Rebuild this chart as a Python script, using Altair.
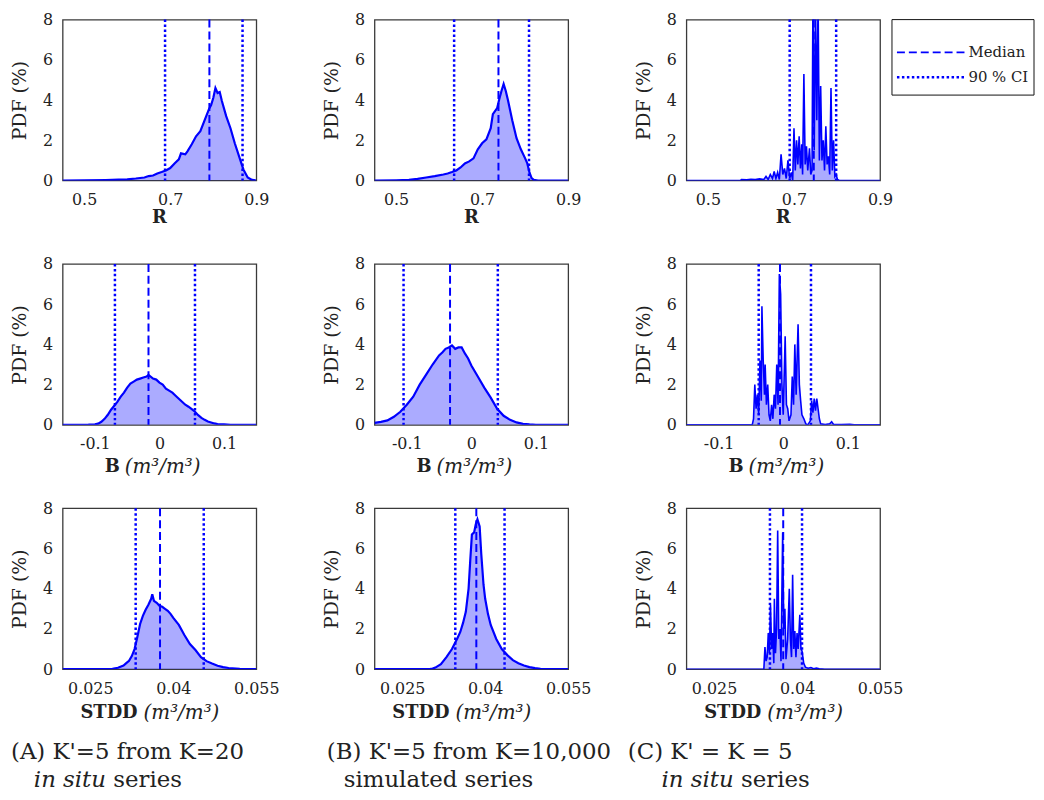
import altair as alt
import pandas as pd

# ---------------- data ----------------
Y_TICKS = [0, 2, 4, 6, 8]
R_TICKS = [0.5, 0.7, 0.9]
B_TICKS = [-0.1, 0.0, 0.1]
S_TICKS = [0.025, 0.04, 0.055]
R_DOMAIN = [0.45, 0.9]
B_DOMAIN = [-0.15, 0.15]
S_DOMAIN = [0.02, 0.055]

# Row 1: R
RA_x = [0.45, 0.50, 0.55, 0.58, 0.60, 0.62, 0.64, 0.65, 0.66, 0.67, 0.68, 0.69, 0.70, 0.71, 0.72, 0.725,
        0.735, 0.74, 0.75, 0.76, 0.77, 0.78, 0.79, 0.795, 0.80, 0.805, 0.81, 0.815, 0.82, 0.83, 0.84,
        0.85, 0.86, 0.87, 0.88, 0.89, 0.90]
RA_y = [0.0, 0.01, 0.02, 0.04, 0.06, 0.10, 0.15, 0.22, 0.25, 0.35, 0.42, 0.50, 0.62, 0.85, 1.05, 1.35,
        1.30, 1.45, 1.80, 2.20, 2.45, 3.00, 3.55, 3.75, 4.10, 4.60, 4.35, 4.40, 3.95, 3.20, 2.60,
        1.85, 1.20, 0.55, 0.15, 0.03, 0.0]
RA_med, RA_ci = 0.791, [0.688, 0.868]

RB_x = [0.45, 0.50, 0.53, 0.55, 0.57, 0.59, 0.61, 0.62, 0.63, 0.64, 0.65, 0.66, 0.67, 0.68, 0.69, 0.70,
        0.71, 0.72, 0.725, 0.73, 0.735, 0.74, 0.745, 0.75, 0.755, 0.76, 0.77, 0.78, 0.79, 0.80, 0.805,
        0.81, 0.815, 0.82, 0.83, 0.90]
RB_y = [0.0, 0.01, 0.03, 0.08, 0.15, 0.22, 0.30, 0.35, 0.42, 0.50, 0.65, 0.85, 0.95, 1.10, 1.55, 1.85,
        2.05, 2.60, 3.30, 3.45, 3.60, 4.05, 4.45, 4.80, 4.45, 4.00, 3.00, 2.10, 1.55, 1.10, 0.85,
        0.40, 0.12, 0.03, 0.0, 0.0]
RB_med, RB_ci = 0.738, [0.635, 0.809]

RC_x = [0.45, 0.575, 0.578, 0.59, 0.60, 0.61, 0.62, 0.63, 0.635, 0.64, 0.645, 0.65, 0.654, 0.658, 0.662,
        0.666, 0.670, 0.674, 0.678, 0.682, 0.686, 0.690, 0.694, 0.697, 0.700, 0.703, 0.706, 0.709, 0.712,
        0.715, 0.718, 0.720, 0.723, 0.726, 0.729, 0.732, 0.736, 0.739, 0.742, 0.744, 0.747, 0.750, 0.753,
        0.756, 0.759, 0.762, 0.765, 0.768, 0.771, 0.774, 0.777, 0.780, 0.783, 0.786, 0.789, 0.792, 0.795,
        0.798, 0.801, 0.805, 0.90]
RC_y = [0.0, 0.0, 0.05, 0.03, 0.06, 0.05, 0.08, 0.05, 0.2, 0.05, 0.3, 0.1, 0.45, 0.1, 0.4,
        0.05, 1.3, 0.3, 0.6, 0.1, 1.0, 0.1, 0.4, 0.0, 2.6, 0.5, 2.0, 0.8, 2.2,
        0.6, 1.8, 0.3, 5.3, 0.8, 1.7, 0.5, 1.6, 0.3, 0.5, 9.0, 1.5, 9.0, 3.0,
        9.0, 1.0, 4.7, 1.0, 2.0, 0.5, 2.7, 0.8, 1.2, 0.3, 4.6, 0.5, 2.0, 0.2,
        0.3, 0.05, 0.0, 0.0]
RC_med, RC_ci = 0.746, [0.690, 0.798]

# Row 2: B
BA_x = [-0.15, -0.12, -0.11, -0.10, -0.095, -0.09, -0.085, -0.08, -0.075, -0.07, -0.065, -0.06, -0.055,
        -0.05, -0.045, -0.04, -0.035, -0.03, -0.025, -0.02, -0.017, -0.01, -0.005, 0.0, 0.005, 0.01,
        0.015, 0.02, 0.025, 0.03, 0.035, 0.04, 0.045, 0.05, 0.055, 0.06, 0.065, 0.07, 0.075, 0.08,
        0.085, 0.09, 0.10, 0.11, 0.15]
BA_y = [0.0, 0.0, 0.01, 0.03, 0.06, 0.15, 0.30, 0.50, 0.75, 0.95, 1.15, 1.40, 1.60,
        1.85, 2.05, 2.15, 2.25, 2.30, 2.35, 2.40, 2.48, 2.30, 2.25, 2.10, 2.00, 1.80,
        1.70, 1.60, 1.45, 1.30, 1.15, 1.00, 0.90, 0.78, 0.65, 0.48, 0.35, 0.25, 0.17, 0.12,
        0.07, 0.04, 0.02, 0.0, 0.0]
BA_med, BA_ci = -0.017, [-0.069, 0.055]

BB_x = [-0.15, -0.14, -0.13, -0.12, -0.11, -0.10, -0.09, -0.08, -0.07, -0.06, -0.05, -0.045, -0.04,
        -0.035, -0.03, -0.025, -0.02, -0.015, -0.01, -0.005, 0.0, 0.01, 0.02, 0.03, 0.04, 0.05, 0.06,
        0.07, 0.08, 0.09, 0.10, 0.15]
BB_y = [0.10, 0.15, 0.22, 0.40, 0.65, 1.00, 1.40, 2.00, 2.50, 3.00, 3.45, 3.60, 3.78,
        3.85, 3.95, 3.78, 3.85, 3.85, 3.55, 3.30, 2.95, 2.40, 1.85, 1.35, 0.80, 0.45, 0.25,
        0.12, 0.05, 0.02, 0.0, 0.0]
BB_med, BB_ci = -0.033, [-0.105, 0.041]

BC_x = [-0.15, -0.048, -0.046, -0.044, -0.042, -0.040, -0.038, -0.036, -0.034, -0.033, -0.031, -0.029,
        -0.028, -0.026, -0.024, -0.022, -0.020, -0.018, -0.016, -0.014, -0.012, -0.010, -0.008, -0.006,
        -0.004, -0.002, 0.0, 0.003, 0.005, 0.007, 0.009, 0.012, 0.014, 0.016, 0.018, 0.020, 0.023,
        0.025, 0.027, 0.029, 0.032, 0.035, 0.038, 0.042, 0.044, 0.046, 0.048, 0.050, 0.052, 0.054,
        0.056, 0.058, 0.065, 0.072, 0.075, 0.078, 0.09, 0.103, 0.11, 0.15]
BC_y = [0.0, 0.0, 0.3, 2.0, 0.8, 1.5, 0.5, 3.2, 1.2, 5.9, 3.2, 1.5,
        3.0, 1.0, 2.0, 0.5, 0.2, 1.0, 0.3, 1.5, 0.8, 3.0, 1.0, 7.5,
        6.5, 2.0, 0.5, 4.4, 1.0, 0.8, 0.2, 0.5, 2.4, 1.0, 4.0, 1.5, 5.0,
        2.0, 1.2, 0.5, 0.3, 0.05, 0.0, 0.2, 1.2, 0.6, 1.3, 0.7, 1.3, 0.8,
        0.3, 0.05, 0.02, 0.05, 0.15, 0.02, 0.02, 0.03, 0.0, 0.0]
BC_med, BC_ci = -0.005, [-0.038, 0.043]

# Row 3: STDD
SA_x = [0.02, 0.028, 0.029, 0.030, 0.031, 0.0315, 0.032, 0.0325, 0.033, 0.0335, 0.034, 0.0345, 0.035,
        0.0355, 0.036, 0.0362, 0.0365, 0.037, 0.0375, 0.038, 0.0385, 0.039, 0.0395, 0.040, 0.041,
        0.042, 0.043, 0.044, 0.045, 0.046, 0.047, 0.048, 0.049, 0.050, 0.052, 0.055]
SA_y = [0.0, 0.0, 0.02, 0.07, 0.18, 0.30, 0.42, 0.65, 1.00, 1.60, 2.25, 2.65, 2.95,
        3.20, 3.50, 3.72, 3.40, 3.30, 3.15, 3.10, 3.00, 2.90, 2.75, 2.55, 2.20,
        1.70, 1.25, 0.95, 0.60, 0.40, 0.28, 0.17, 0.10, 0.06, 0.02, 0.0]
SA_med, SA_ci = 0.0376, [0.0332, 0.0455]

SB_x = [0.02, 0.030, 0.0305, 0.031, 0.032, 0.033, 0.034, 0.035, 0.0355, 0.036, 0.0365, 0.037, 0.0373,
        0.0376, 0.038, 0.0383, 0.0386, 0.039, 0.0393, 0.0397, 0.040, 0.0405, 0.041, 0.042, 0.043,
        0.044, 0.045, 0.046, 0.047, 0.048, 0.049, 0.050, 0.055]
SB_y = [0.0, 0.0, 0.03, 0.08, 0.25, 0.60, 1.00, 1.55, 1.85, 2.30, 2.85, 4.00, 5.40,
        6.70, 6.80, 7.20, 7.45, 7.10, 5.70, 4.20, 3.50, 2.75, 2.20, 1.50, 1.00,
        0.70, 0.45, 0.30, 0.18, 0.10, 0.05, 0.02, 0.0]
SB_med, SB_ci = 0.0384, [0.0346, 0.0435]

SC_x = [0.02, 0.0340, 0.0342, 0.0344, 0.0346, 0.0348, 0.0350, 0.0352, 0.0354, 0.0356, 0.0358, 0.0359,
        0.0361, 0.0363, 0.0365, 0.0367, 0.0369, 0.0371, 0.0374, 0.0376, 0.0378, 0.0380, 0.0383, 0.0386,
        0.0388, 0.0390, 0.0392, 0.0394, 0.0396, 0.0398, 0.0400, 0.0402, 0.0405, 0.0407, 0.0409, 0.0412,
        0.0415, 0.0420, 0.0425, 0.0430, 0.0435, 0.0440, 0.045, 0.055]
SC_y = [0.0, 0.0, 1.1, 0.4, 0.6, 1.8, 0.8, 3.2, 1.0, 1.8, 0.3, 3.5,
        0.8, 2.0, 6.9, 1.5, 2.0, 0.4, 6.8, 2.0, 3.0, 0.5, 1.5, 4.0,
        1.5, 0.6, 4.7, 1.0, 1.9, 0.6, 1.8, 1.0, 2.7, 1.0, 0.9, 0.3,
        0.1, 0.05, 0.08, 0.02, 0.05, 0.02, 0.0, 0.0]
SC_med, SC_ci = 0.0375, [0.0351, 0.0409]

CAPTIONS = [
    ("(A) K'=5 from K=20", "in situ", "series"),
    ("(B) K'=5 from K=10,000", "", "simulated series"),
    ("(C)  K' = K = 5", "in situ", "series"),
]
LEGEND_LABELS = ["Median", "90 % CI"]

# ---------------- styling ----------------
W, H = 195, 162
BLUE = "#0000ff"
FONT = "DejaVu Serif"
TXT = "#222222"


def txt(text, x, y, size, weight="normal", style="normal", align="left"):
    return alt.Chart(pd.DataFrame({"t": [text]})).mark_text(
        font=FONT, fontSize=size, fontWeight=weight, fontStyle=style,
        align=align, baseline="middle", color=TXT
    ).encode(x=alt.value(x), y=alt.value(y), text="t:N")


def xtitle(kind):
    cx = W / 2
    if kind == "R":
        return [txt("R", cx, H + 38, 18, weight="bold", align="center")]
    if kind == "B":
        return [txt("B", cx - 40, H + 42, 18, weight="bold", align="right"),
                txt("(m³/m³)", cx - 35, H + 42, 20, style="italic")]
    return [txt("STDD", cx - 22, H + 44, 18, weight="bold", align="right"),
            txt("(m³/m³)", cx - 16, H + 44, 20, style="italic")]


def caption(i):
    line1, ital, rest = CAPTIONS[i]
    x1 = [-52, -48, -59][i]
    x2 = [-29, -31, -25][i]
    layers = [txt(line1, x1, H + 83, 23)]
    if ital:
        layers.append(txt(ital, x2, H + 112, 23, style="italic"))
        layers.append(txt(rest, x2 + 80, H + 112, 23))
    else:
        layers.append(txt(rest, x2, H + 112, 23))
    return layers


def legend():
    box = alt.Chart(pd.DataFrame({"a": [0]})).mark_rect(
        fill="white", stroke="#111111", strokeWidth=1
    ).encode(x=alt.value(207), x2=alt.value(350), y=alt.value(0), y2=alt.value(76))
    l1 = alt.Chart(pd.DataFrame({"a": [0]})).mark_rule(
        color=BLUE, strokeWidth=2, strokeDash=[8, 4]
    ).encode(x=alt.value(212), x2=alt.value(281), y=alt.value(33))
    l2 = alt.Chart(pd.DataFrame({"a": [0]})).mark_rule(
        color=BLUE, strokeWidth=2.5, strokeDash=[2.5, 2.5]
    ).encode(x=alt.value(212), x2=alt.value(281), y=alt.value(58))
    return [box, l1, l2,
            txt(LEGEND_LABELS[0], 284, 33, 15),
            txt(LEGEND_LABELS[1], 284, 58, 15)]


LABEL_EXPR = "replace(format(datum.value, '~g'), '\u2212', '-')"


def panel(xs, ys, med, ci, dom, ticks, kind, spiky=False, extra=()):
    df = pd.DataFrame({"v": xs, "pdf": ys})
    xsc = alt.Scale(domain=dom, nice=False, zero=False)
    ysc = alt.Scale(domain=[0, 8], nice=False)
    xax = alt.Axis(values=ticks, title=None, labelFlush=False, labelPadding=11,
                   labelExpr=LABEL_EXPR)
    yax = alt.Axis(values=Y_TICKS, title="PDF (%)", labelPadding=10, titlePadding=13)
    area = alt.Chart(df).mark_area(color=BLUE, fillOpacity=0.33, clip=True).encode(
        x=alt.X("v:Q", scale=xsc, axis=xax),
        y=alt.Y("pdf:Q", scale=ysc, axis=yax),
    )
    line = alt.Chart(df).mark_line(
        color=BLUE, strokeWidth=1.6 if spiky else 2.2, clip=True
    ).encode(x="v:Q", y="pdf:Q")
    ci_r = alt.Chart(pd.DataFrame({"v": ci})).mark_rule(
        color=BLUE, strokeWidth=2.5, strokeDash=[2.5, 2.5]
    ).encode(x="v:Q")
    med_r = alt.Chart(pd.DataFrame({"v": [med]})).mark_rule(
        color=BLUE, strokeWidth=2, strokeDash=[8, 4]
    ).encode(x="v:Q")
    return alt.layer(area, line, ci_r, med_r, *xtitle(kind), *extra).properties(width=W, height=H)


panels = [
    panel(RA_x, RA_y, RA_med, RA_ci, R_DOMAIN, R_TICKS, "R"),
    panel(RB_x, RB_y, RB_med, RB_ci, R_DOMAIN, R_TICKS, "R"),
    panel(RC_x, RC_y, RC_med, RC_ci, R_DOMAIN, R_TICKS, "R", spiky=True, extra=legend()),
    panel(BA_x, BA_y, BA_med, BA_ci, B_DOMAIN, B_TICKS, "B"),
    panel(BB_x, BB_y, BB_med, BB_ci, B_DOMAIN, B_TICKS, "B"),
    panel(BC_x, BC_y, BC_med, BC_ci, B_DOMAIN, B_TICKS, "B", spiky=True),
    panel(SA_x, SA_y, SA_med, SA_ci, S_DOMAIN, S_TICKS, "S", extra=caption(0)),
    panel(SB_x, SB_y, SB_med, SB_ci, S_DOMAIN, S_TICKS, "S", extra=caption(1)),
    panel(SC_x, SC_y, SC_med, SC_ci, S_DOMAIN, S_TICKS, "S", spiky=True, extra=caption(2)),
]

chart = alt.concat(
    *panels, columns=3, spacing={"row": 84, "column": 119}, bounds="flush"
).properties(
    padding={"left": 2, "top": 0, "right": 0, "bottom": 0}
).configure_view(
    stroke="#3a3a3a", strokeWidth=1.3
).configure_axis(
    grid=False, domain=False, ticks=False,
    labelFont=FONT, labelFontSize=16, labelColor=TXT,
    titleFont=FONT, titleFontSize=19, titleFontWeight="normal", titleColor=TXT,
)

chart.save("out.html", embed_options={"renderer": "svg", "actions": False})
